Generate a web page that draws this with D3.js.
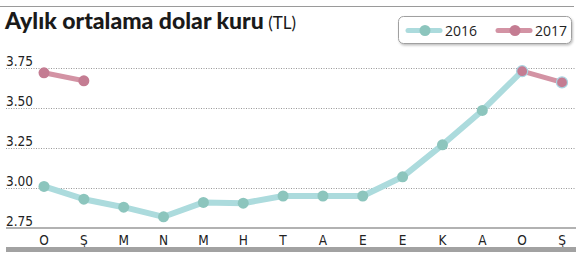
<!DOCTYPE html>
<html>
<head>
<meta charset="utf-8">
<script src="https://cdn.jsdelivr.net/npm/d3@7"></script>
<style>
  body { margin: 0; background: #fff; }
  svg { display: block; }
  .tick-lbl { font-family: "Liberation Sans Narrow", "DejaVu Sans Condensed", sans-serif; font-size: 13.5px; fill: #222; }
</style>
</head>
<body>
<div id="vis"></div>
<script>
const months = ["O", "Ş", "M", "N", "M", "H", "T", "A", "E", "E", "K", "A", "O", "Ş"];
const values2016 = [3.01, 2.93, 2.88, 2.82, 2.91, 2.905, 2.95, 2.95, 2.95, 3.07, 3.27, 3.485, 3.73, null];
const values2017 = [3.72, 3.67, null, null, null, null, null, null, null, null, null, null, 3.73, 3.66];
const yTicks = [2.75, 3.00, 3.25, 3.50, 3.75];

const FRAME_WIDTH = 587;
const FRAME_HEIGHT = 262;
const LEFT = 6, RIGHT = 576;

const TEAL_LINE = "#acdbdd", TEAL_DOT = "#8cc5bd";
const PINK_LINE = "#d393a4", PINK_DOT = "#c47c92";

const svg = d3.select("#vis").append("svg")
    .attr("width", FRAME_WIDTH)
    .attr("height", FRAME_HEIGHT);

// shadow for the legend box
const defs = svg.append("defs");
const f = defs.append("filter").attr("id", "shadow").attr("x", "-10%").attr("y", "-30%").attr("width", "130%").attr("height", "180%");
f.append("feDropShadow").attr("dx", 1).attr("dy", 1.5).attr("stdDeviation", 1.2).attr("flood-color", "#000").attr("flood-opacity", 0.25);

// top rule + title
svg.append("line")
    .attr("x1", 0).attr("x2", 574).attr("y1", 6.5).attr("y2", 6.5)
    .attr("stroke", "#9a9a9a").attr("stroke-width", 1.2);

const title = svg.append("text")
    .attr("x", 5).attr("y", 29)
    .style("font-family", "Lato, 'Open Sans', sans-serif")
    .style("fill", "#1a1a1a");
title.append("tspan").text("Aylık ortalama dolar kuru")
    .style("font-weight", 900).style("font-size", "23px");
title.append("tspan").text(" (TL)")
    .style("font-weight", 400).style("font-size", "17px");

// scales
const X_SCALE = d3.scalePoint()
    .domain(d3.range(months.length))
    .range([44, 562]);

const Y_SCALE = d3.scaleLinear()
    .domain([2.75, 3.75])
    .range([228, 68]);

// gridlines + y labels
yTicks.forEach((t) => {
    if (t > 2.75) {
        svg.append("line")
            .attr("x1", LEFT).attr("x2", RIGHT)
            .attr("y1", Y_SCALE(t) + 0.5).attr("y2", Y_SCALE(t) + 0.5)
            .attr("stroke", "#999").attr("stroke-width", 1)
            .attr("stroke-dasharray", "1,1.5");
    }
    svg.append("text")
        .attr("class", "tick-lbl")
        .attr("x", LEFT).attr("y", Y_SCALE(t) - 2)
        .text(d3.format(".2f")(t));
});

// x axis line + labels + bottom bar
svg.append("line")
    .attr("x1", LEFT).attr("x2", RIGHT).attr("y1", 228).attr("y2", 228)
    .attr("stroke", "#999").attr("stroke-width", 1.5);

svg.selectAll(".xlbl")
    .data(months)
    .enter()
    .append("text")
    .attr("class", "tick-lbl")
    .attr("x", (d, i) => X_SCALE(i))
    .attr("y", 245)
    .attr("text-anchor", "middle")
    .text((d) => d);

svg.append("rect")
    .attr("x", LEFT).attr("y", 247).attr("width", RIGHT - LEFT).attr("height", 5)
    .attr("fill", "#a2a2a2");

// lines
const line = d3.line()
    .defined((d) => d != null)
    .x((d, i) => X_SCALE(i))
    .y((d) => Y_SCALE(d));

svg.append("path")
    .datum(values2016)
    .attr("d", line)
    .attr("fill", "none")
    .attr("stroke", TEAL_LINE)
    .attr("stroke-width", 6)
    .attr("stroke-linejoin", "round");

svg.selectAll(".dot16")
    .data(values2016.map((v, i) => ({v: v, i: i})).filter((d) => d.v != null))
    .enter()
    .append("circle")
    .attr("cx", (d) => X_SCALE(d.i))
    .attr("cy", (d) => Y_SCALE(d.v))
    .attr("r", 5.5)
    .attr("fill", TEAL_DOT);

svg.append("path")
    .datum(values2017)
    .attr("d", line)
    .attr("fill", "none")
    .attr("stroke", PINK_LINE)
    .attr("stroke-width", 5)
    .attr("stroke-linejoin", "round");

svg.selectAll(".dot17")
    .data(values2017.map((v, i) => ({v: v, i: i})).filter((d) => d.v != null))
    .enter()
    .append("circle")
    .attr("cx", (d) => X_SCALE(d.i))
    .attr("cy", (d) => Y_SCALE(d.v))
    .attr("r", 5.5)
    .attr("fill", PINK_DOT)
    .attr("stroke", (d) => d.i > 1 ? "#a9d3e0" : "none")
    .attr("stroke-width", 1.2);

// legend
const legend = svg.append("g");
legend.append("rect")
    .attr("x", 398.5).attr("y", 16.5).attr("width", 173).attr("height", 27)
    .attr("rx", 5)
    .attr("fill", "#fff")
    .attr("stroke", "#a0a0a0")
    .attr("filter", "url(#shadow)");

const legendItems = [
    {name: "2016", x: 408, line: TEAL_LINE, dot: TEAL_DOT},
    {name: "2017", x: 498, line: PINK_LINE, dot: PINK_DOT}
];
legendItems.forEach((it) => {
    legend.append("line")
        .attr("x1", it.x).attr("x2", it.x + 32).attr("y1", 30.5).attr("y2", 30.5)
        .attr("stroke", it.line).attr("stroke-width", 5).attr("stroke-linecap", "round");
    legend.append("circle")
        .attr("cx", it.x + 17).attr("cy", 30.5).attr("r", 5.5)
        .attr("fill", it.dot);
    legend.append("text")
        .attr("x", it.x + 37).attr("y", 36)
        .style("font-family", "'Open Sans', sans-serif")
        .style("font-size", "14px")
        .style("fill", "#222")
        .text(it.name);
});
</script>
</body>
</html>
